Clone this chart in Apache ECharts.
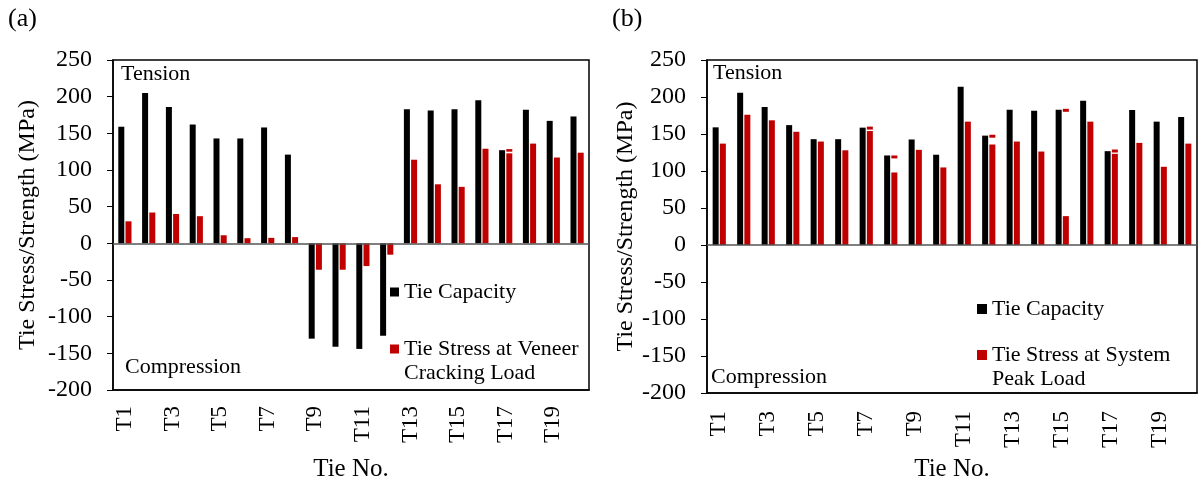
<!DOCTYPE html>
<html>
<head>
<meta charset="utf-8">
<script src="https://cdn.jsdelivr.net/npm/echarts@6/dist/echarts.min.js"></script>
<style>
  html, body { margin: 0; padding: 0; background: #fff; }
  #main { width: 1200px; height: 487px; }
</style>
</head>
<body>
<div id="main"></div>
<script>
// 数据
const ties = ['T1', 'T2', 'T3', 'T4', 'T5', 'T6', 'T7', 'T8', 'T9', 'T10',
  'T11', 'T12', 'T13', 'T14', 'T15', 'T16', 'T17', 'T18', 'T19', 'T20']
const yTicks = { min: -200, max: 250, step: 50 }

// (a) veneer cracking load
const capacityA = [159, 205, 186, 162, 143, 143, 158, 121, -130, -141,
  -144, -126, 183, 181, 183, 195, 127, 182, 167, 173]
const stressA = [30, 42, 40, 37, 11, 7, 7.5, 8.5, -36, -36,
  -31, -15.5, 114, 80.5, 77, 129, 122.7, 136, 117, 123.6]
// 小红横线（上下值）
const dashLowA = ['-', '-', '-', '-', '-', '-', '-', '-', '-', '-',
  '-', '-', '-', '-', '-', '-', 125, '-', '-', '-']
const dashHighA = ['-', '-', '-', '-', '-', '-', '-', '-', '-', '-',
  '-', '-', '-', '-', '-', '-', 128.5, '-', '-', '-']

// (b) system peak load
const capacityB = [159, 205.6, 186.4, 162, 143, 143, 158.6, 121, 142.6, 122,
  214, 147.8, 182.8, 181.5, 182.8, 195, 126.8, 182.3, 166.7, 173]
const stressB = [137, 176, 168.5, 153, 139.8, 128, 154, 98, 128.6, 104.8,
  166.7, 135.8, 139.8, 126.3, 39, 166.7, 123.2, 138, 105.7, 137]
const dashLowB = ['-', '-', '-', '-', '-', '-', 156, 117, '-', '-',
  '-', 145, '-', '-', 180, '-', 125, '-', '-', '-']
const dashHighB = ['-', '-', '-', '-', '-', '-', 160, 121, '-', '-',
  '-', 149, '-', '-', 184, '-', 129, '-', '-', '-']

const nameCap = 'Tie Capacity'
const nameA = 'Tie Stress at Veneer Cracking Load'
const nameB = 'Tie Stress at System Peak Load'

const FONT = 'Liberation Serif'
const RED = '#c00000'

let myChart = echarts.init(document.getElementById('main'))

// 每个子图的坐标轴
function makeX(gridIndex, nameGap, margin) {
  return {
    type: 'category',
    gridIndex: gridIndex,
    data: ties,
    name: 'Tie No.',
    nameLocation: 'middle',
    nameGap: nameGap,
    nameTextStyle: { fontFamily: FONT, fontSize: 25, color: '#000' },
    axisLine: { onZero: false, lineStyle: { color: '#000', width: 1.5 } },
    axisTick: { show: false },
    axisLabel: {
      interval: 1,
      rotate: 90,
      margin: margin,
      fontFamily: FONT,
      fontSize: 23,
      color: '#000'
    }
  }
}

function makeY(gridIndex, nameGap) {
  return {
    type: 'value',
    gridIndex: gridIndex,
    min: yTicks.min,
    max: yTicks.max,
    interval: yTicks.step,
    name: 'Tie Stress/Strength (MPa)',
    nameLocation: 'middle',
    nameGap: nameGap,
    nameTextStyle: { fontFamily: FONT, fontSize: 24, color: '#000' },
    axisLine: { show: true, lineStyle: { color: '#000', width: 1.5 } },
    axisTick: { show: true, length: 6, lineStyle: { color: '#000' } },
    splitLine: { show: false },
    axisLabel: { margin: 21, fontFamily: FONT, fontSize: 24, color: '#000' }
  }
}

// 柱子：黑色 + 红色（红色上叠加透明间隙和小横线）
function makeSeries(idx, redName, cap, stress, low, high) {
  let gap = stress.map((v, i) => low[i] === '-' ? '-' : low[i] - v)
  let dash = low.map((v, i) => v === '-' ? '-' : high[i] - v)
  return [
    {
      name: nameCap, type: 'bar', xAxisIndex: idx, yAxisIndex: idx,
      data: cap, barWidth: 6, barGap: '20%',
      itemStyle: { color: '#000' },
      markLine: {
        silent: true, symbol: 'none', label: { show: false },
        lineStyle: { color: '#555', width: 1.5, type: 'solid' },
        data: [{ yAxis: 0 }]
      }
    },
    {
      name: redName, type: 'bar', xAxisIndex: idx, yAxisIndex: idx,
      stack: 'red' + idx, data: stress, barWidth: 6,
      itemStyle: { color: RED }
    },
    {
      name: 'gap' + idx, type: 'bar', xAxisIndex: idx, yAxisIndex: idx,
      stack: 'red' + idx, data: gap, barWidth: 6,
      itemStyle: { color: 'rgba(0,0,0,0)' }
    },
    {
      name: redName, type: 'bar', xAxisIndex: idx, yAxisIndex: idx,
      stack: 'red' + idx, data: dash, barWidth: 6,
      itemStyle: { color: RED }
    }
  ]
}

// 图例：多行文字时在前面加空行，让色块对齐第一行
function makeLegend(left, top, name, text, size) {
  let lines = text.split('\n')
  let content = lines.length > 1 ? '\n' + text : text
  return {
    left: left, top: top, orient: 'vertical', padding: 0,
    itemWidth: size, itemHeight: size, icon: 'rect',
    selectedMode: false,
    data: [{ name: name }],
    textStyle: { fontFamily: FONT, fontSize: 22, color: '#000', lineHeight: 24 },
    formatter: function () { return content }
  }
}

function label(x, y, text) {
  return {
    type: 'text', left: x, top: y,
    style: { text: text, fontFamily: FONT, fontSize: 22, fill: '#000' }
  }
}

let option = {
  animation: false,
  grid: [
    { left: 113, top: 60, width: 476, height: 330, show: true, borderColor: '#000', borderWidth: 1.5 },
    { left: 707, top: 60, width: 490, height: 335, show: true, borderColor: '#000', borderWidth: 1.5 }
  ],
  xAxis: [makeX(0, 67, 16), makeX(1, 64, 18)],
  yAxis: [makeY(0, 73), makeY(1, 67)],
  legend: [
    makeLegend(390, 280, nameCap, 'Tie Capacity', 9),
    makeLegend(390, 313, nameA, 'Tie Stress at Veneer\nCracking Load', 9),
    makeLegend(977, 297, nameCap, 'Tie Capacity', 10),
    makeLegend(977, 319, nameB, 'Tie Stress at System\nPeak Load', 10)
  ],
  graphic: [
    { type: 'text', left: 8, top: 6, style: { text: '(a)', fontFamily: FONT, fontSize: 26, fill: '#000' } },
    { type: 'text', left: 612, top: 6, style: { text: '(b)', fontFamily: FONT, fontSize: 26, fill: '#000' } },
    label(121, 63, 'Tension'),
    label(125, 356, 'Compression'),
    label(713, 62, 'Tension'),
    label(711, 366, 'Compression')
  ],
  series: makeSeries(0, nameA, capacityA, stressA, dashLowA, dashHighA)
    .concat(makeSeries(1, nameB, capacityB, stressB, dashLowB, dashHighB))
}

myChart.setOption(option)

window.addEventListener('resize', function () {
  myChart.resize()
})
</script>
</body>
</html>
